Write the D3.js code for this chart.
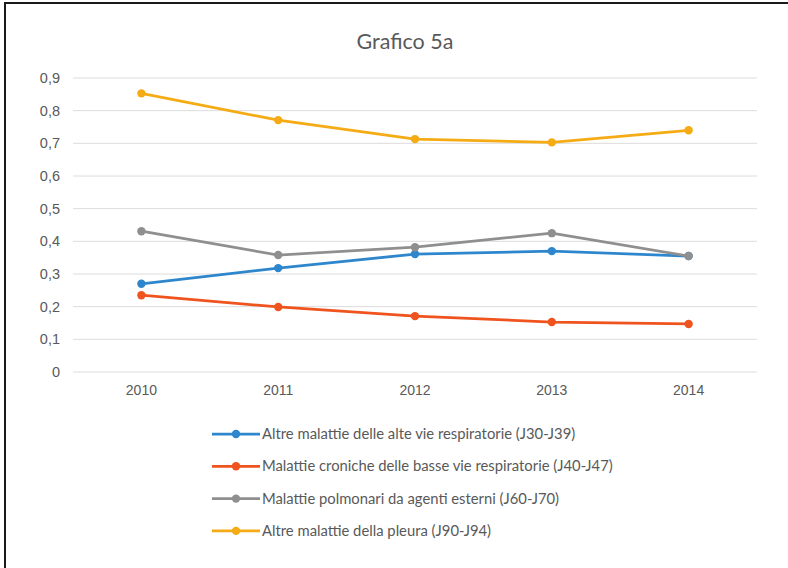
<!DOCTYPE html>
<html>
<head>
<meta charset="utf-8">
<script src="https://cdn.jsdelivr.net/npm/d3@7"></script>
<style>
  body { margin: 0; background: #fff; }
  svg { display: block; font-family: Lato, "Open Sans", sans-serif; }
</style>
</head>
<body>
<svg id="chart" width="788" height="568"></svg>
<script>
const years = ["2010", "2011", "2012", "2013", "2014"];
const seriesNames = [
  "Altre malattie delle alte vie respiratorie (J30-J39)",
  "Malattie croniche delle basse vie respiratorie (J40-J47)",
  "Malattie polmonari da agenti esterni (J60-J70)",
  "Altre malattie della pleura (J90-J94)"
];
const seriesColors = ["#2e87cc", "#f0541e", "#8f8f8f", "#f5ab14"];
const altreAlte = [0.27, 0.318, 0.361, 0.37, 0.355];
const croniche = [0.235, 0.199, 0.171, 0.153, 0.147];
const polmonari = [0.431, 0.358, 0.382, 0.425, 0.355];
const pleura = [0.853, 0.771, 0.713, 0.703, 0.740];
const yTicks = [0, 0.1, 0.2, 0.3, 0.4, 0.5, 0.6, 0.7, 0.8, 0.9];

const seriesValues = [altreAlte, croniche, polmonari, pleura];

const svg = d3.select("#chart");
const textColor = "#595959";

// frame: only top and left edges show in the scan
svg.append("path")
  .attr("d", "M5,568 V3 H788")
  .attr("fill", "none")
  .attr("stroke", "#1a1a1a")
  .attr("stroke-width", 2);

const margin = {top: 78, right: 31, bottom: 196, left: 73};
const width = 788 - margin.left - margin.right;
const height = 568 - margin.top - margin.bottom;

const g = svg.append("g").attr("transform", `translate(${margin.left},${margin.top})`);

const x = d3.scaleBand().domain(years).range([0, width]);
const y = d3.scaleLinear().domain([0, 0.9]).range([height, 0]);

// gridlines
g.append("g")
  .selectAll("line")
  .data(yTicks)
  .join("line")
  .attr("x1", 0).attr("x2", width)
  .attr("y1", d => y(d)).attr("y2", d => y(d))
  .attr("stroke", "#dcdcdc")
  .attr("stroke-width", 1);

const fmt = d => d === 0 ? "0" : d3.format(".1f")(d).replace(".", ",");

const yAxis = g.append("g")
  .call(d3.axisLeft(y).tickValues(yTicks).tickFormat(fmt).tickSize(0).tickPadding(13));
yAxis.select(".domain").remove();
yAxis.selectAll("text").attr("fill", textColor).attr("font-size", 14.5);

const xAxis = g.append("g")
  .attr("transform", `translate(0,${height})`)
  .call(d3.axisBottom(x).tickSize(0).tickPadding(13));
xAxis.select(".domain").remove();
xAxis.selectAll("text").attr("fill", textColor).attr("font-size", 14);

const cx = d => x(d) + x.bandwidth() / 2;
const line = d3.line().x((d, i) => cx(years[i])).y(d => y(d));

seriesValues.forEach((vals, k) => {
  const s = g.append("g");
  s.append("path")
    .datum(vals)
    .attr("fill", "none")
    .attr("stroke", seriesColors[k])
    .attr("stroke-width", 2.75)
    .attr("d", line);
  s.selectAll("circle")
    .data(vals)
    .join("circle")
    .attr("cx", (d, i) => cx(years[i]))
    .attr("cy", d => y(d))
    .attr("r", 4.2)
    .attr("fill", seriesColors[k]);
});

// title
svg.append("text")
  .attr("x", 405).attr("y", 49)
  .attr("text-anchor", "middle")
  .attr("fill", textColor)
  .attr("font-size", 21.5)
  .text("Grafico 5a");

// legend
const legend = svg.append("g").attr("transform", "translate(212,434)");
const rows = legend.selectAll("g")
  .data(seriesNames)
  .join("g")
  .attr("transform", (d, i) => `translate(0,${i * 32.3})`);
rows.append("line")
  .attr("x1", 0).attr("x2", 48)
  .attr("stroke", (d, i) => seriesColors[i])
  .attr("stroke-width", 2.75);
rows.append("circle")
  .attr("cx", 24).attr("r", 4.2)
  .attr("fill", (d, i) => seriesColors[i]);
rows.append("text")
  .attr("x", 50).attr("dy", "0.35em")
  .attr("fill", textColor)
  .attr("font-size", 14.8)
  .text(d => d);
</script>
</body>
</html>
